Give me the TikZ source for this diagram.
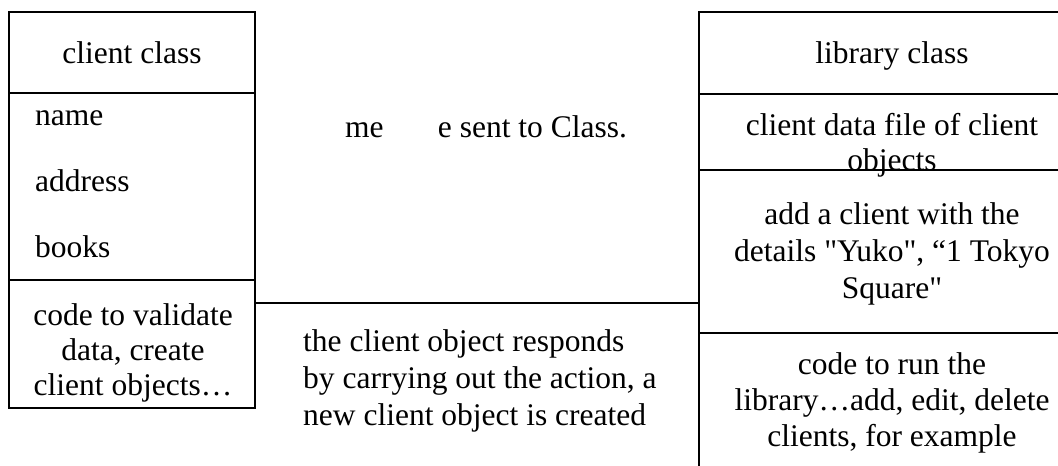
\documentclass[tikz,border=0pt]{standalone}
\usepackage{fontspec}
\setmainfont{Liberation Serif}[Ligatures=TeXOff]
\begin{document}
\begin{tikzpicture}[x=1pt,y=-1pt,
  txt/.style={inner sep=0pt, font=\fontsize{31.5}{35}\selectfont, align=center,
    execute at begin node=\strut, execute at end node=\strut},
  frame/.style={draw, line width=1.4pt},
  cell/.style={anchor=north west, inner sep=0pt, outer sep=0pt}]
\useasboundingbox (0,0) rectangle (1058,466);
% left class box
\node[cell, frame, minimum width=246pt, minimum height=81pt] (lhead) at (9,12) {};
\node[cell, frame, minimum width=246pt, minimum height=187pt] (lattr) at (9,93) {};
\node[cell, frame, minimum width=246pt, minimum height=128pt] (lmeth) at (9,280) {};
\node[txt] (tcc) at (132,56) {client class};
\node[txt, anchor=west] (tname) at (35,118) {name};
\node[txt, anchor=west] (taddr) at (35,184) {address};
\node[txt, anchor=west] (tbooks) at (35,250) {books};
\node[txt] (tval) at (133,355) {code to validate\\ data, create\\ client objects…};
% right class box (open to the right and bottom)
\node[cell, minimum width=359pt, minimum height=82pt] (rhead) at (699,12) {};
\node[cell, minimum width=359pt, minimum height=76pt] (rdata) at (699,94) {};
\node[cell, minimum width=359pt, minimum height=163pt] (radd) at (699,170) {};
\node[cell, minimum width=359pt, minimum height=133pt] (rcode) at (699,333) {};
\draw[frame] (rhead.north east) -- (rhead.north west) -- (rcode.south west);
\draw[frame] (rhead.south west) -- (rhead.south east);
\draw[frame] (rdata.south west) -- (rdata.south east);
\draw[frame] (radd.south west) -- (radd.south east);
\node[txt] (tlc) at (892,56) {library class};
\node[txt] (tdata) at (892,147) {client data file of client\\ objects};
\node[txt, font=\fontsize{31.5}{37}\selectfont] (tadd) at (892,256) {add a client with the\\ details "Yuko", “1 Tokyo\\ Square"};
\node[txt, font=\fontsize{31.5}{36}\selectfont] (trun) at (892,405) {code to run the\\ library…add, edit, delete\\ clients, for example};
% message
\node[txt, anchor=west] (tmsg) at (345,130) {me\phantom{ssag}e sent to Class.};
\coordinate (conn) at (0,303);
\draw[frame] (lmeth.east |- conn) -- (radd.west |- conn);
\node[txt, anchor=west, align=left, font=\fontsize{31.5}{37}\selectfont] (tresp) at (303,383)
  {the client object responds\\ by carrying out the action, a\\ new client object is created};
\end{tikzpicture}
\end{document}
